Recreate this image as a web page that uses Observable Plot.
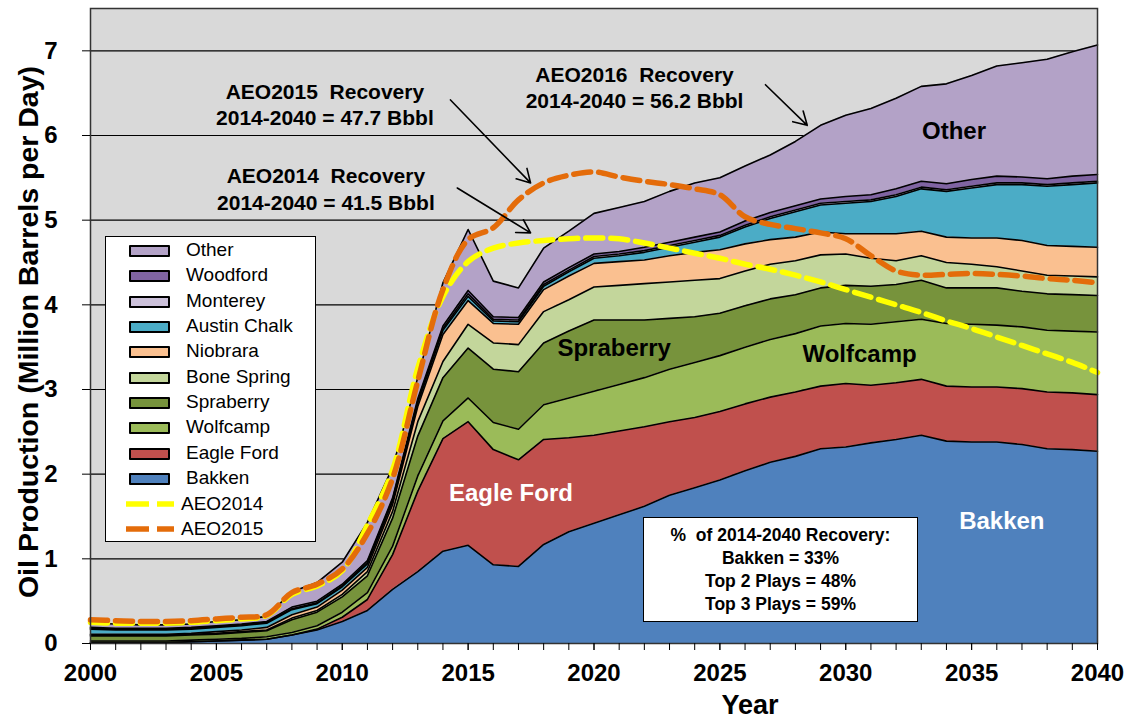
<!DOCTYPE html>
<html>
<head>
<meta charset="utf-8">
<script src="https://cdn.jsdelivr.net/npm/d3@7"></script>
<script src="https://cdn.jsdelivr.net/npm/@observablehq/plot@0.6"></script>
<style>
  body { margin: 0; background: #fff; font-family: "Liberation Sans", Arial, sans-serif; }
  #wrap { position: relative; width: 1128px; height: 726px; overflow: hidden; }
  #wrap > svg { position: absolute; left: 0; top: 0; }
  #legend { position: absolute; left: 105px; top: 236px; width: 211px; height: 306px; background: #fff;
            border: 1.5px solid #000; box-sizing: border-box; }
  .lrow { position: absolute; left: 0; height: 24px; width: 205px; font-size: 19px; color: #000; }
  .lrow .sw { position: absolute; left: 23px; top: 6px; width: 37px; height: 8px; border: 2px solid #000; border-radius: 1px; }
  .lrow svg { position: absolute; left: 19px; top: 5px; }
  .lrow .lt { position: absolute; top: 1px; line-height: 20px; white-space: pre; }
  #note { position: absolute; left: 643px; top: 517px; width: 275px; height: 105px; background: #fff;
          border: 1.5px solid #000; box-sizing: border-box; text-align: center; font-weight: bold;
          font-size: 17.5px; line-height: 23px; padding-top: 6px; white-space: pre; color: #000; }
</style>
</head>
<body>
<div id="wrap"></div>
<script>
// ---------- data ----------
const years = [2000,2001,2002,2003,2004,2005,2006,2007,2008,2009,2010,2011,2012,2013,2014,2015,2016,2017,2018,2019,2020,
               2021,2022,2023,2024,2025,2026,2027,2028,2029,2030,2031,2032,2033,2034,2035,2036,2037,2038,2039,2040];

const plays = ["Bakken","Eagle Ford","Wolfcamp","Spraberry","Bone Spring","Niobrara","Austin Chalk","Monterey","Woodford","Other"];
const playColors = ["#4f81bd","#c0504d","#9bbb59","#77933c","#c3d69b","#fac090","#4bacc6","#ccc1da","#8064a2","#b3a2c7"];

// million barrels per day, per play
const bakken = [0.01,0.01,0.01,0.01,0.02,0.03,0.04,0.05,0.10,0.16,0.26,0.39,0.64,0.85,1.09,1.16,0.93,0.91,1.17,1.32,1.42,
                1.52,1.62,1.75,1.84,1.93,2.04,2.14,2.21,2.30,2.32,2.37,2.41,2.46,2.39,2.38,2.38,2.35,2.30,2.29,2.27];
const eagleFord = [0,0,0,0,0,0,0,0,0,0.01,0.05,0.13,0.41,0.95,1.33,1.46,1.36,1.26,1.24,1.11,1.04,
                   0.99,0.94,0.87,0.83,0.81,0.79,0.77,0.76,0.74,0.75,0.68,0.67,0.66,0.65,0.65,0.65,0.66,0.67,0.67,0.67];
const wolfcamp = [0.02,0.02,0.02,0.02,0.02,0.02,0.02,0.03,0.03,0.04,0.06,0.08,0.10,0.18,0.21,0.28,0.32,0.36,0.41,0.47,0.52,
                  0.55,0.58,0.62,0.65,0.66,0.67,0.68,0.69,0.71,0.71,0.72,0.72,0.71,0.74,0.74,0.73,0.73,0.73,0.73,0.74];
const spraberry = [0.06,0.06,0.06,0.06,0.06,0.06,0.07,0.07,0.15,0.16,0.18,0.20,0.33,0.47,0.51,0.59,0.63,0.68,0.73,0.79,0.84,
                   0.76,0.68,0.60,0.54,0.50,0.49,0.48,0.46,0.45,0.45,0.45,0.44,0.46,0.42,0.43,0.44,0.42,0.43,0.43,0.43];
const boneSpring = [0.01,0.01,0.01,0.01,0.01,0.01,0.01,0.01,0.02,0.02,0.03,0.05,0.08,0.17,0.19,0.28,0.31,0.32,0.37,0.37,0.39,
                    0.41,0.43,0.43,0.43,0.41,0.41,0.41,0.40,0.39,0.37,0.33,0.28,0.29,0.30,0.28,0.25,0.24,0.22,0.22,0.22];
const niobrara = [0.01,0.01,0.01,0.01,0.01,0.02,0.02,0.03,0.04,0.04,0.05,0.05,0.08,0.18,0.32,0.28,0.23,0.24,0.26,0.28,0.28,
                  0.28,0.28,0.31,0.33,0.34,0.32,0.29,0.28,0.27,0.24,0.29,0.32,0.29,0.30,0.31,0.34,0.36,0.35,0.35,0.35];
const austinChalk = [0.06,0.05,0.05,0.05,0.05,0.05,0.05,0.05,0.06,0.04,0.04,0.04,0.04,0.04,0.05,0.05,0.03,0.03,0.04,0.05,0.06,
                     0.07,0.09,0.10,0.12,0.15,0.20,0.25,0.30,0.32,0.36,0.38,0.44,0.50,0.54,0.59,0.63,0.66,0.70,0.73,0.76];
const monterey = [0.01,0.01,0.01,0.01,0.01,0.01,0.01,0.01,0.01,0.01,0.01,0.02,0.02,0.02,0.02,0.03,0.02,0.02,0.02,0.02,0.02,
                  0.02,0.02,0.02,0.02,0.02,0.02,0.02,0.02,0.02,0.02,0.02,0.02,0.02,0.02,0.02,0.02,0.02,0.02,0.02,0.02];
const woodford = [0.01,0.01,0.01,0.01,0.01,0.01,0.01,0.01,0.02,0.02,0.02,0.02,0.02,0.03,0.03,0.04,0.03,0.03,0.03,0.03,0.03,
                  0.03,0.04,0.04,0.04,0.04,0.05,0.05,0.05,0.05,0.06,0.06,0.07,0.07,0.07,0.08,0.08,0.07,0.07,0.08,0.08];
const other = [0.05,0.05,0.04,0.04,0.04,0.05,0.05,0.06,0.18,0.22,0.26,0.45,0.36,0.25,0.51,0.72,0.42,0.35,0.40,0.43,0.48,
               0.52,0.54,0.60,0.64,0.64,0.65,0.68,0.76,0.87,0.96,1.02,1.07,1.12,1.18,1.23,1.30,1.35,1.41,1.47,1.53];

const aeo2014 = [0.25,0.24,0.24,0.24,0.25,0.27,0.29,0.33,0.58,0.68,0.86,1.40,2.05,3.25,4.10,4.51,4.67,4.73,4.76,4.78,4.79,
                 4.78,4.73,4.67,4.61,4.55,4.48,4.42,4.35,4.27,4.18,4.09,4.00,3.91,3.81,3.72,3.62,3.52,3.42,3.32,3.20];
const aeo2015 = [0.28,0.27,0.26,0.26,0.27,0.29,0.31,0.34,0.60,0.70,0.88,1.30,1.95,3.10,4.18,4.77,4.91,5.24,5.44,5.53,5.57,
                 5.51,5.46,5.42,5.37,5.30,5.04,4.95,4.90,4.85,4.78,4.58,4.40,4.35,4.36,4.37,4.36,4.34,4.31,4.29,4.26];

const yTicks = [0,1,2,3,4,5,6,7];
const xLabelTicks = [2000,2005,2010,2015,2020,2025,2030,2035,2040];
const gridValues = [1,2,3,4,5,6,7];

const yTitle = "Oil Production (Million Barrels per Day)";
const xTitle = "Year";

const playLabelsDark = [
  {x: 2034.3, y: 6.05, text: "Other"},
  {x: 2020.8, y: 3.49, text: "Spraberry"},
  {x: 2030.55, y: 3.42, text: "Wolfcamp"}
];
const playLabelsLight = [
  {x: 2016.7, y: 1.77, text: "Eagle Ford"},
  {x: 2036.2, y: 1.44, text: "Bakken"}
];
const recoveryNotes = [
  {x: 2009.31, y: 6.38, text: "AEO2015  Recovery\n2014-2040 = 47.7 Bbbl"},
  {x: 2009.35, y: 5.38, text: "AEO2014  Recovery\n2014-2040 = 41.5 Bbbl"},
  {x: 2021.61, y: 6.58, text: "AEO2016  Recovery\n2014-2040 = 56.2 Bbbl"}
];
const recoveryArrows = [
  {x1: 2014.30, y1: 6.42, x2: 2017.48, y2: 5.44},
  {x1: 2014.57, y1: 5.38, x2: 2017.48, y2: 4.85},
  {x1: 2026.81, y1: 6.60, x2: 2028.47, y2: 6.12}
];
const noteLines = ["%  of 2014-2040 Recovery:", "Bakken = 33%", "Top 2 Plays = 48%", "Top 3 Plays = 59%"];

// ---------- tables ----------
const playSeries = {"Bakken": bakken, "Eagle Ford": eagleFord, "Wolfcamp": wolfcamp, "Spraberry": spraberry,
  "Bone Spring": boneSpring, "Niobrara": niobrara, "Austin Chalk": austinChalk, "Monterey": monterey,
  "Woodford": woodford, "Other": other};
const rows = plays.flatMap(p => years.map((yr, i) => ({year: yr, play: p, value: playSeries[p][i]})));
const aeo14Rows = years.map((yr, i) => ({year: yr, value: aeo2014[i]}));
const aeo15Rows = years.map((yr, i) => ({year: yr, value: aeo2015[i]}));

const font = '"Liberation Sans", Arial, sans-serif';

const chart = Plot.plot({
  width: 1128, height: 726,
  marginLeft: 90, marginRight: 31, marginTop: 8, marginBottom: 83,
  style: {fontFamily: font, background: "transparent", color: "#000"},
  x: {domain: [2000, 2040], axis: null},
  y: {domain: [0, 7.5], axis: null},
  color: {domain: plays, range: playColors},
  marks: [
    Plot.frame({fill: "#d9d9d9"}),
    Plot.ruleY(gridValues, {stroke: "#000", strokeWidth: 1.2}),
    Plot.areaY(rows, {x: "year", y: "value", z: "play", fill: "play", order: plays}),
    Plot.lineY(rows, Plot.stackY2({x: "year", y: "value", z: "play", order: plays, stroke: "#000", strokeWidth: 1.6})),
    Plot.lineY(aeo14Rows, {x: "year", y: "value", stroke: "#ffff00", strokeWidth: 5.5, strokeDasharray: "17,8", curve: "catmull-rom"}),
    Plot.lineY(aeo15Rows, {x: "year", y: "value", stroke: "#e46c0a", strokeWidth: 5.5, strokeDasharray: "17,8", curve: "catmull-rom"}),
    Plot.text(playLabelsDark, {x: "x", y: "y", text: "text", fill: "#000", fontSize: 24, fontWeight: "bold"}),
    Plot.text(playLabelsLight, {x: "x", y: "y", text: "text", fill: "#fff", fontSize: 24, fontWeight: "bold"}),
    Plot.text(recoveryNotes, {x: "x", y: "y", text: "text", fill: "#000", fontSize: 21, fontWeight: "bold", lineHeight: 1.27}),
    Plot.arrow(recoveryArrows, {x1: "x1", y1: "y1", x2: "x2", y2: "y2", stroke: "#000", strokeWidth: 1.6, headLength: 14, bend: 0}),
    Plot.frame({stroke: "#333", strokeWidth: 1.5}),
    Plot.axisY(yTicks, {anchor: "left", tickSize: 8, tickPadding: 25, fontSize: 24, fontWeight: "bold", label: null, tickFormat: d3.format("d")}),
    Plot.axisX(years, {anchor: "bottom", tickSize: 7, tickFormat: () => "", label: null}),
    Plot.axisX(xLabelTicks, {anchor: "bottom", tickSize: 7, tickPadding: 13, fontSize: 24, fontWeight: "bold", label: null, tickFormat: d3.format("d")}),
    Plot.text([yTitle], {frameAnchor: "left", textAnchor: "middle", dx: -62, dy: 6, rotate: -90, fontSize: 28.5, fontWeight: "bold", fill: "#000"}),
    Plot.text([{x: 2026.2, t: xTitle}], {x: "x", text: "t", frameAnchor: "bottom", dy: 70, fontSize: 27, fontWeight: "bold", fill: "#000"})
  ]
});

const wrap = document.getElementById("wrap");
wrap.appendChild(chart);

// ---------- legend (inside plot) ----------
const legend = document.createElement("div");
legend.id = "legend";
const rowTops = [2, 27, 52.5, 78, 103, 129, 154, 179, 205, 230, 255.5, 281];
const legendPlays = plays.slice().reverse();
legendPlays.forEach((p, i) => {
  const r = document.createElement("div");
  r.className = "lrow";
  r.style.top = rowTops[i] + "px";
  const sw = document.createElement("div");
  sw.className = "sw";
  sw.style.background = playColors[plays.indexOf(p)];
  const t = document.createElement("div");
  t.className = "lt";
  t.style.left = "80px";
  t.textContent = p;
  r.appendChild(sw); r.appendChild(t);
  legend.appendChild(r);
});
[["AEO2014", "#ffff00"], ["AEO2015", "#e46c0a"]].forEach(([name, col], j) => {
  const r = document.createElement("div");
  r.className = "lrow";
  r.style.top = rowTops[10 + j] + "px";
  r.innerHTML = `<svg width="50" height="12"><line x1="1" y1="6" x2="49" y2="6" stroke="${col}" stroke-width="5.5" stroke-dasharray="23,8"/></svg>`;
  const t = document.createElement("div");
  t.className = "lt";
  t.style.left = "75px";
  t.textContent = name;
  r.appendChild(t);
  legend.appendChild(r);
});
wrap.appendChild(legend);

// ---------- recovery note box ----------
const note = document.createElement("div");
note.id = "note";
note.textContent = noteLines.join("\n");
wrap.appendChild(note);
</script>
</body>
</html>
